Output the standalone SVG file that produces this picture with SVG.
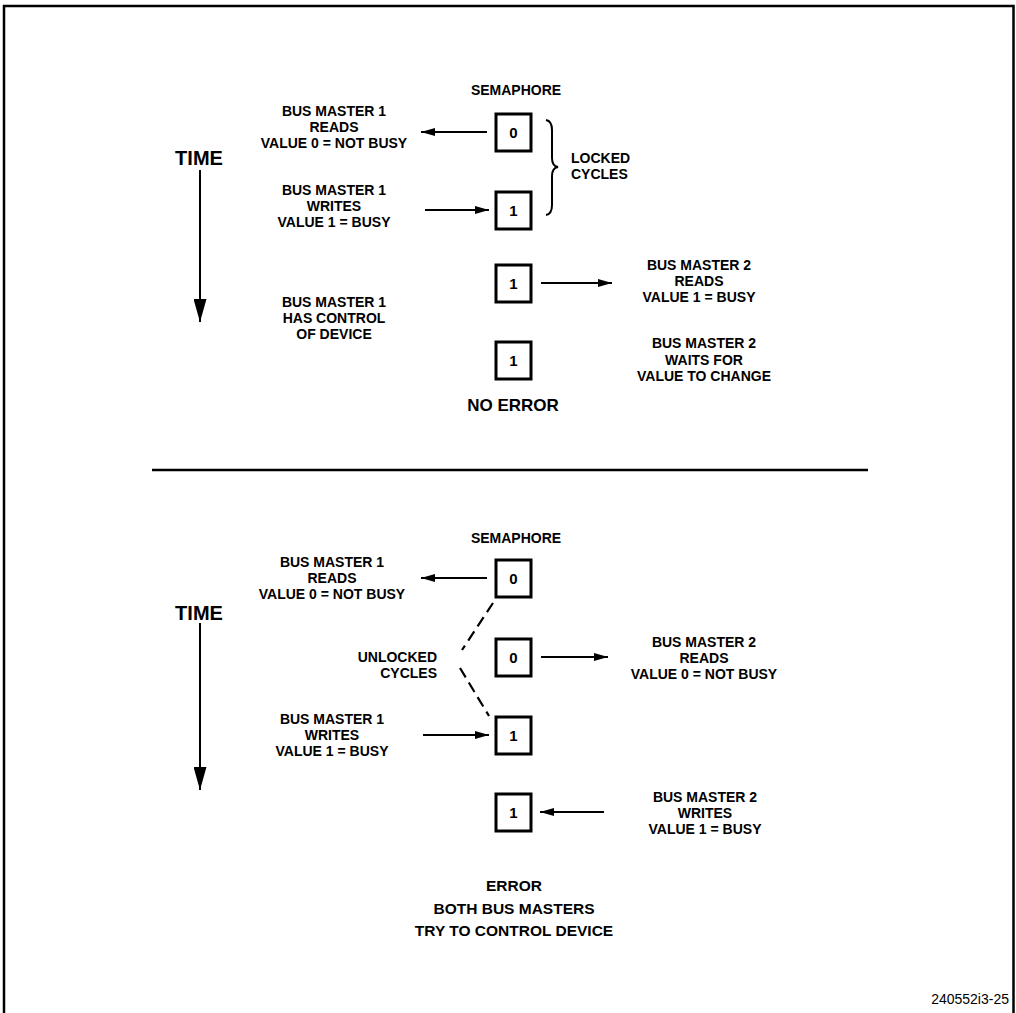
<svg xmlns="http://www.w3.org/2000/svg" width="1016" height="1013" viewBox="0 0 1016 1013">
<style>
text{font-family:"Liberation Sans",Arial,Helvetica,sans-serif;font-weight:bold;fill:#000}
.l{font-size:14px;text-anchor:middle}
.s{font-size:14px}
.e{font-size:14px;text-anchor:end}
.t{font-size:20px;text-anchor:middle}
.h{font-size:17px;text-anchor:middle}
.x{font-size:15.5px;text-anchor:middle}
.d{font-size:15px;text-anchor:middle}
.box{fill:#fff;stroke:#000;stroke-width:3}
.ln{fill:none;stroke:#000;stroke-width:2}
.dash{fill:none;stroke:#000;stroke-width:2.2;stroke-dasharray:11 6}
.fr{fill:none;stroke:#000;stroke-width:2.5}
.id{font-size:14px;font-weight:normal;text-anchor:end}
</style>
<defs>
<marker id="ah" markerUnits="userSpaceOnUse" markerWidth="15" markerHeight="8" refX="14" refY="4" orient="auto"><path d="M0,0 L14,4 L0,8 z" fill="#000"/></marker>
<marker id="ahT" markerUnits="userSpaceOnUse" markerWidth="24" markerHeight="13" refX="23" refY="6.5" orient="auto"><path d="M0,0 L23,6.5 L0,13 z" fill="#000"/></marker>
</defs>
<rect width="1016" height="1013" fill="#fff"/>
<path class="fr" d="M4,1013 V6 H1013.5 V1013"/>
<line class="fr" x1="152" y1="470" x2="868" y2="470"/>

<g id="top-semaphore-label"><text class="l" x="516" y="95">SEMAPHORE</text></g>
<g id="top-box-1"><rect class="box" x="496" y="114" width="35" height="37"/><text class="d" x="513.5" y="138">0</text></g>
<g id="top-box-2"><rect class="box" x="496" y="192" width="35" height="37"/><text class="d" x="513.5" y="216">1</text></g>
<g id="top-box-3"><rect class="box" x="496" y="265" width="35" height="37"/><text class="d" x="513.5" y="289">1</text></g>
<g id="top-box-4"><rect class="box" x="496" y="342" width="35" height="37"/><text class="d" x="513.5" y="366">1</text></g>
<g id="top-time"><text class="t" x="199" y="165">TIME</text></g>
<g id="top-bm1-reads"><text class="l" x="334" y="116">BUS MASTER 1</text><text class="l" x="334" y="132">READS</text><text class="l" x="334" y="148">VALUE 0 = NOT BUSY</text></g>
<g id="top-bm1-writes"><text class="l" x="334" y="195">BUS MASTER 1</text><text class="l" x="334" y="211">WRITES</text><text class="l" x="334" y="227">VALUE 1 = BUSY</text></g>
<g id="top-locked"><text class="s" x="571" y="163">LOCKED</text><text class="s" x="571" y="179">CYCLES</text></g>
<g id="top-bm2-reads"><text class="l" x="699" y="270">BUS MASTER 2</text><text class="l" x="699" y="286">READS</text><text class="l" x="699" y="302">VALUE 1 = BUSY</text></g>
<g id="top-bm1-control"><text class="l" x="334" y="307">BUS MASTER 1</text><text class="l" x="334" y="323">HAS CONTROL</text><text class="l" x="334" y="339">OF DEVICE</text></g>
<g id="top-bm2-waits"><text class="l" x="704" y="348">BUS MASTER 2</text><text class="l" x="704" y="365">WAITS FOR</text><text class="l" x="704" y="381">VALUE TO CHANGE</text></g>
<g id="no-error"><text class="h" x="513" y="411">NO ERROR</text></g>

<g id="bot-semaphore-label"><text class="l" x="516" y="543">SEMAPHORE</text></g>
<g id="bot-box-1"><rect class="box" x="496" y="560" width="35" height="37"/><text class="d" x="513.5" y="584">0</text></g>
<g id="bot-box-2"><rect class="box" x="496" y="639" width="35" height="37"/><text class="d" x="513.5" y="663">0</text></g>
<g id="bot-box-3"><rect class="box" x="496" y="717" width="35" height="37"/><text class="d" x="513.5" y="741">1</text></g>
<g id="bot-box-4"><rect class="box" x="496" y="794" width="35" height="37"/><text class="d" x="513.5" y="818">1</text></g>
<g id="bot-time"><text class="t" x="199" y="620">TIME</text></g>
<g id="bot-bm1-reads"><text class="l" x="332" y="567">BUS MASTER 1</text><text class="l" x="332" y="583">READS</text><text class="l" x="332" y="599">VALUE 0 = NOT BUSY</text></g>
<g id="bot-unlocked"><text class="e" x="437" y="662">UNLOCKED</text><text class="e" x="437" y="678">CYCLES</text></g>
<g id="bot-bm2-reads"><text class="l" x="704" y="647">BUS MASTER 2</text><text class="l" x="704" y="663">READS</text><text class="l" x="704" y="679">VALUE 0 = NOT BUSY</text></g>
<g id="bot-bm1-writes"><text class="l" x="332" y="724">BUS MASTER 1</text><text class="l" x="332" y="740">WRITES</text><text class="l" x="332" y="756">VALUE 1 = BUSY</text></g>
<g id="bot-bm2-writes"><text class="l" x="705" y="802">BUS MASTER 2</text><text class="l" x="705" y="818">WRITES</text><text class="l" x="705" y="834">VALUE 1 = BUSY</text></g>
<g id="error"><text class="x" x="514" y="891">ERROR</text><text class="x" x="514" y="914">BOTH BUS MASTERS</text><text class="x" x="514" y="936">TRY TO CONTROL DEVICE</text></g>
<g id="figure-id"><text class="id" x="1009" y="1004">240552i3-25</text></g>

<g id="connectors">
<line class="ln" x1="487" y1="132" x2="421" y2="132" marker-end="url(#ah)"/>
<line class="ln" x1="425" y1="210" x2="489" y2="210" marker-end="url(#ah)"/>
<line class="ln" x1="541" y1="283" x2="612" y2="283" marker-end="url(#ah)"/>
<line class="ln" x1="200" y1="170" x2="200" y2="322" marker-end="url(#ahT)"/>
<path class="ln" d="M546,120 Q552,121 552,130 L552,158 Q552,166 558,167 Q552,168 552,176 L552,205 Q552,214 546,215"/>
<line class="ln" x1="487" y1="578" x2="421" y2="578" marker-end="url(#ah)"/>
<line class="ln" x1="541" y1="657" x2="608" y2="657" marker-end="url(#ah)"/>
<line class="ln" x1="423" y1="735" x2="489" y2="735" marker-end="url(#ah)"/>
<line class="ln" x1="604" y1="812" x2="540" y2="812" marker-end="url(#ah)"/>
<line class="ln" x1="200" y1="623" x2="200" y2="790" marker-end="url(#ahT)"/>
<line class="dash" x1="493" y1="603" x2="462" y2="650"/>
<line class="dash" x1="460" y1="668" x2="489" y2="716"/>
</g>
</svg>
